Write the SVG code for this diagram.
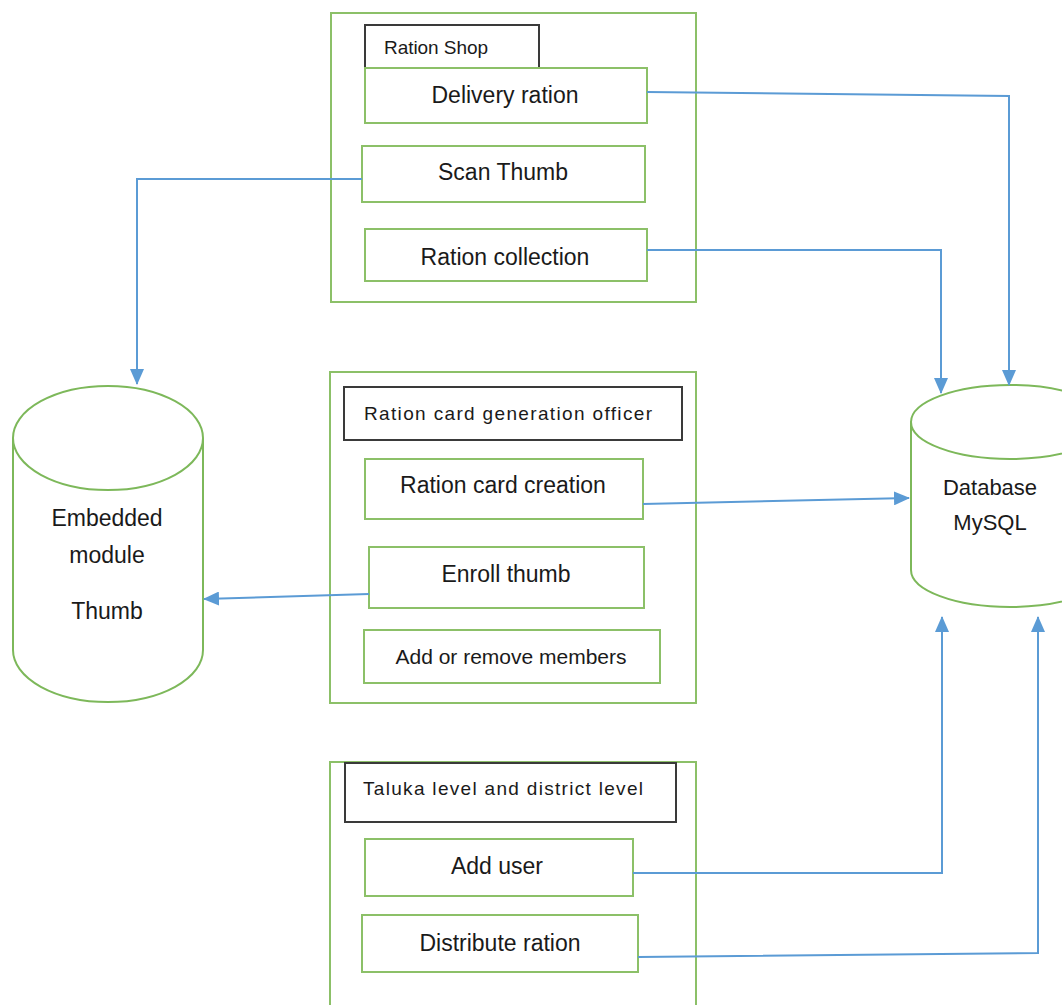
<svg xmlns="http://www.w3.org/2000/svg" width="1062" height="1005" viewBox="0 0 1062 1005">
<style>
.grp{fill:none;stroke:#8CC068;stroke-width:2}
.box{fill:#fff;stroke:#8CC068;stroke-width:2}
.lbl{fill:#fff;stroke:#3a3a3a;stroke-width:2}
.cyl{fill:#fff;stroke:#7DB85A;stroke-width:2}
.t{font-family:"Liberation Sans",Arial,sans-serif;font-size:23px;fill:#1a1a1a;text-anchor:middle}
.s{font-family:"Liberation Sans",Arial,sans-serif;font-size:19px;fill:#1a1a1a}
.c{fill:none;stroke:#5B9BD5;stroke-width:2}
</style>
<defs>
<marker id="ah" markerUnits="userSpaceOnUse" markerWidth="16" markerHeight="14" refX="15" refY="7" orient="auto">
<path d="M0,0 L16,7 L0,14 Z" fill="#5B9BD5"/>
</marker>
</defs>
<rect width="1062" height="1005" fill="#fff"/>

<g id="ration-shop">
<rect class="grp" x="331" y="13" width="365" height="289"/>
<rect class="lbl" x="365" y="25" width="174" height="43"/>
<text class="s" x="384" y="54" textLength="104">Ration Shop</text>
</g>
<g id="delivery-ration">
<rect class="box" x="365" y="68" width="282" height="55"/>
<text class="t" x="505" y="103">Delivery ration</text>
</g>
<g id="scan-thumb">
<rect class="box" x="362" y="146" width="283" height="56"/>
<text class="t" x="503" y="180">Scan Thumb</text>
</g>
<g id="ration-collection">
<rect class="box" x="365" y="229" width="282" height="52"/>
<text class="t" x="505" y="265">Ration collection</text>
</g>

<g id="ration-card-officer">
<rect class="grp" x="330" y="372" width="366" height="331"/>
<rect class="lbl" x="344" y="387" width="338" height="53"/>
<text class="s" x="364" y="420" textLength="288">Ration card generation officer</text>
</g>
<g id="ration-card-creation">
<rect class="box" x="365" y="459" width="278" height="60"/>
<text class="t" x="503" y="493">Ration card creation</text>
</g>
<g id="enroll-thumb">
<rect class="box" x="369" y="547" width="275" height="61"/>
<text class="t" x="506" y="582">Enroll thumb</text>
</g>
<g id="add-remove-members">
<rect class="box" x="364" y="630" width="296" height="53"/>
<text class="t" x="511" y="664" style="font-size:21px">Add or remove members</text>
</g>

<g id="taluka-district">
<path class="grp" d="M330,1010 L330,762 L696,762 L696,1010"/>
<rect class="lbl" x="345" y="763" width="331" height="59"/>
<text class="s" x="363" y="795" textLength="280">Taluka level and district level</text>
</g>
<g id="add-user">
<rect class="box" x="365" y="839" width="268" height="57"/>
<text class="t" x="497" y="874">Add user</text>
</g>
<g id="distribute-ration">
<rect class="box" x="362" y="915" width="276" height="57"/>
<text class="t" x="500" y="951">Distribute ration</text>
</g>

<g id="embedded-module">
<path class="cyl" d="M13,438 L13,650 A95,52 0 0 0 203,650 L203,438"/>
<ellipse class="cyl" cx="108" cy="438" rx="95" ry="52"/>
<text class="t" x="107" y="526">Embedded</text>
<text class="t" x="107" y="563">module</text>
<text class="t" x="107" y="619">Thumb</text>
</g>

<g id="database">
<path class="cyl" d="M911,422 L911,570 A99,37 0 0 0 1109,570 L1109,422"/>
<ellipse class="cyl" cx="1010" cy="422" rx="99" ry="37"/>
<text class="t" x="990" y="495" style="font-size:22px">Database</text>
<text class="t" x="990" y="530" style="font-size:22px">MySQL</text>
</g>

<g id="connectors">
<path class="c" d="M647,92 L1009,96 L1009,385" marker-end="url(#ah)"/>
<path class="c" d="M647,250 L941,250 L941,393" marker-end="url(#ah)"/>
<path class="c" d="M362,179 L137,179 L137,384" marker-end="url(#ah)"/>
<path class="c" d="M643,504 L909,498" marker-end="url(#ah)"/>
<path class="c" d="M369,594 L204,599" marker-end="url(#ah)"/>
<path class="c" d="M633,873 L942,873 L942,617" marker-end="url(#ah)"/>
<path class="c" d="M638,957 L1038,953 L1038,617" marker-end="url(#ah)"/>
</g>
</svg>
